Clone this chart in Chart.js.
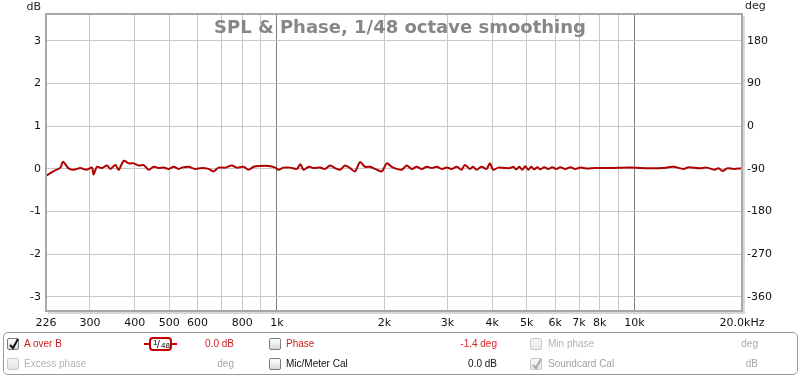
<!DOCTYPE html>
<html><head><meta charset="utf-8">
<script src="https://cdn.jsdelivr.net/npm/chart.js@4/dist/chart.umd.min.js"></script>
<style>
html,body{margin:0;padding:0;background:#fff;width:800px;height:377px;overflow:hidden;}
#wrap{position:relative;width:800px;height:377px;}
#c{position:absolute;left:0;top:0;}
.panel{position:absolute;left:3px;top:332px;width:795px;height:43px;border:1px solid #9a9a9a;border-radius:5px;box-sizing:border-box;}
.t{position:absolute;font:10px "Liberation Sans",Arial,sans-serif;white-space:nowrap;line-height:12px;height:12px;}
.r{text-align:right;}
.cb{position:absolute;width:12px;height:12px;border:1px solid #7d7d7d;border-radius:2px;background:linear-gradient(#ffffff,#d9d9d9);box-sizing:border-box;}
.cb.dis{border-color:#c9c9c9;background:linear-gradient(#f6f6f6,#e6e6e6);}
.cb svg{position:absolute;left:0;top:-2px;}
.smo{position:absolute;left:144px;top:337px;width:33px;height:14px;}
.smo .ln{position:absolute;top:6px;height:2px;background:#c00000;}
.smo .bx{position:absolute;left:5px;top:0;width:23px;height:14px;border:2px solid #c00000;border-radius:4px;box-sizing:border-box;background:#fff;font:9px "Liberation Sans",Arial,sans-serif;color:#000;}
</style>
</head><body>
<div id="wrap">
<canvas id="c" width="800" height="377"></canvas>
<div class="panel"></div>

<div class="cb" style="left:7px;top:338px;"><svg width="12" height="14" viewBox="0 0 12 14"><path d="M2 8 L5 11 L10 2" stroke="#111" stroke-width="2" fill="none"/></svg></div>
<div class="t" style="left:24px;top:338px;color:#c81e1e;">A over B</div>
<div class="smo"><div class="ln" style="left:0;width:6px;"></div><div class="ln" style="left:27px;width:6px;"></div>
<div class="bx"><span style="position:absolute;left:2px;top:-1px;font-size:8px;">1</span><span style="position:absolute;left:6px;top:0px;font-size:10px;">/</span><span style="position:absolute;left:10px;top:2px;font-size:8px;">48</span></div></div>
<div class="t r" style="right:566px;top:338px;color:#d01e1e;">0.0 dB</div>
<div class="cb" style="left:269px;top:338px;"></div>
<div class="t" style="left:286px;top:338px;color:#d01e1e;">Phase</div>
<div class="t r" style="right:303px;top:338px;color:#e02020;">-1.4 deg</div>
<div class="cb dis" style="left:530px;top:338px;"></div>
<div class="t" style="left:548px;top:338px;color:#b4b4b4;">Min phase</div>
<div class="t r" style="right:42px;top:338px;color:#a8a8a8;">deg</div>

<div class="cb dis" style="left:7px;top:358px;"></div>
<div class="t" style="left:24px;top:358px;color:#b4b4b4;">Excess phase</div>
<div class="t r" style="right:566px;top:358px;color:#a8a8a8;">deg</div>
<div class="cb" style="left:269px;top:358px;"></div>
<div class="t" style="left:286px;top:358px;color:#111;">Mic/Meter Cal</div>
<div class="t r" style="right:303px;top:358px;color:#111;">0.0 dB</div>
<div class="cb dis" style="left:530px;top:358px;"><svg width="12" height="14" viewBox="0 0 12 14"><path d="M2 8 L5 11 L10 2" stroke="#a9a9a9" stroke-width="2" fill="none"/></svg></div>
<div class="t" style="left:548px;top:358px;color:#a0a0a0;">Soundcard Cal</div>
<div class="t r" style="right:42px;top:358px;color:#a8a8a8;">dB</div>
</div>
<script>
// ---- data ----
const freqHz = [226.4,237.4,247.9,252.1,261.5,270.0,281.9,293.0,303.8,307.2,313.8,324.1,334.7,342.2,353.4,361.0,372.8,385.0,397.6,410.6,424.1,438.0,452.3,467.1,482.5,498.3,514.6,531.5,
541.9,565.8,590.5,616.5,643.8,664.9,686.7,716.6,748.1,772.7,806.7,833.2,860.5,897.9,948.0,989.0,1011,1044,1090,1138,1162,1188,1227,1267,
1320,1363,1408,1454,1502,1551,1602,1654,1708,1764,1822,1882,1965,2029,2096,2164,2235,2308,2384,2462,2542,2626,2712,2800,2892,2988,3085,3186,
3284,3356,3466,3540,3617,3735,3858,3944,4027,4159,4343,
4495,4583,4672,4764,4858,4953,5049,5148,5248,5350,5455,5596,5743,5893,6047,6204,6409,6617,6834,7060,7337,7778,8566,9683,
11015,11978,12862,13718,14165,15214,15913,16757,17196,17645,18222,18941,20000];
const splDb = [-0.16,-0.05,0.03,0.17,0.01,-0.02,0.02,-0.02,0.03,-0.13,0.05,0.02,0.08,0.0,0.09,-0.02,0.19,0.13,0.13,0.08,0.09,-0.02,0.05,0.02,0.03,0.0,0.05,0.0,
0.03,0.05,0.0,0.02,0.0,-0.06,0.03,0.03,0.08,0.03,0.05,-0.02,0.05,0.07,0.07,0.03,-0.02,0.03,0.03,0.0,0.11,-0.02,0.05,0.02,
0.03,0.0,0.08,0.02,-0.02,0.08,0.02,-0.06,0.16,0.05,0.05,0.0,-0.06,0.13,0.05,0.0,-0.02,0.08,0.0,0.05,0.0,0.05,0.02,0.05,0.0,0.03,0.0,0.05,
-0.02,0.09,0.0,0.05,-0.02,0.05,0.0,0.13,-0.02,0.03,0.02,
0.02,0.05,-0.01,0.05,-0.02,0.06,-0.02,0.05,-0.01,0.04,-0.01,0.04,0.0,0.04,0.0,0.04,0.0,0.04,0.0,0.03,0.01,0.02,0.02,0.03,
0.015,0.02,0.05,0.0,0.04,0.015,0.03,-0.02,0.015,-0.05,0.015,0.0,0.015];
const dbTicks = [-3,-2,-1,0,1,2,3];
const degTicks = [-360,-270,-180,-90,0,90,180];
const freqTicks = [226,300,400,500,600,700,800,900,1000,2000,3000,4000,5000,6000,7000,8000,9000,10000,20000];
const freqTickLabels = ['226','300','400','500','600','','800','','1k','2k','3k','4k','5k','6k','7k','8k','','10k','20.0kHz'];
const dbRange = [-3.33, 3.63];
const degRange = [-389.7, 236.7];
const titleText = 'SPL & Phase, 1/48 octave smoothing';

const tickFont = {family:'"DejaVu Sans", sans-serif', size:11};

const framePlugin = {
  id:'frame',
  afterDraw(chart){
    const {ctx, chartArea:a} = chart;
    ctx.save();
    ctx.strokeStyle = '#d8d8d8'; ctx.lineWidth = 2;
    ctx.beginPath();
    ctx.moveTo(a.right+2, a.top+2); ctx.lineTo(a.right+2, a.bottom+2); ctx.lineTo(a.left+2, a.bottom+2);
    ctx.stroke();
    ctx.strokeStyle = '#a8a8a8'; ctx.lineWidth = 2;
    ctx.strokeRect(a.left, a.top, a.right-a.left, a.bottom-a.top);
    ctx.fillStyle = '#878787';
    ctx.font = 'bold 18px "DejaVu Sans", sans-serif';
    ctx.textAlign = 'center'; ctx.textBaseline = 'alphabetic';
    ctx.fillText(titleText, (a.left+a.right)/2+6, a.top+19);
    ctx.fillStyle = '#222';
    ctx.font = '11px "DejaVu Sans", sans-serif';
    ctx.textAlign = 'right'; ctx.fillText('dB', a.left-5, 10);
    ctx.textAlign = 'left'; ctx.fillText('deg', a.right+3, 9);
    ctx.restore();
  }
};

new Chart(document.getElementById('c'), {
  type:'line',
  data:{datasets:[{
    label:'A over B',
    data: freqHz.map((f,i)=>({x:f, y:splDb[i]})),
    borderColor:'#b00000', borderWidth:2, pointRadius:0, tension:0.3, fill:false, yAxisID:'y'
  }]},
  options:{
    responsive:false, animation:false, devicePixelRatio:1,
    layout:{padding:{top:14,left:0,right:0,bottom:0}},
    plugins:{legend:{display:false}, tooltip:{enabled:false}, title:{display:false}},
    scales:{
      x:{type:'logarithmic', min:226, max:20000,
        afterBuildTicks(s){ s.ticks = freqTicks.map(v=>({value:v})); },
        afterFit(s){ s.height = 66; },
        ticks:{autoSkip:false, maxRotation:0, minRotation:0, color:'#111', font:tickFont, padding:6,
          callback:(v,i)=>freqTickLabels[i]},
        grid:{drawTicks:false, lineWidth:1,
          color:(c)=> (c.tick && (c.tick.value===1000 || c.tick.value===10000)) ? '#7c7c7c' : '#c8c8c8'},
        border:{display:false}
      },
      y:{position:'left', min:dbRange[0], max:dbRange[1],
        afterBuildTicks(s){ s.ticks = dbTicks.map(v=>({value:v})); },
        afterFit(s){ s.width = 46; },
        ticks:{color:'#111', font:tickFont, padding:5},
        grid:{drawTicks:false, color:'#c8c8c8', lineWidth:1},
        border:{display:false}
      },
      y2:{position:'right', min:degRange[0], max:degRange[1],
        afterBuildTicks(s){ s.ticks = degTicks.map(v=>({value:v})); },
        afterFit(s){ s.width = 58; },
        ticks:{color:'#111', font:tickFont, padding:5},
        grid:{display:false, drawTicks:false},
        border:{display:false}
      }
    }
  },
  plugins:[framePlugin]
});
</script>
</body></html>
